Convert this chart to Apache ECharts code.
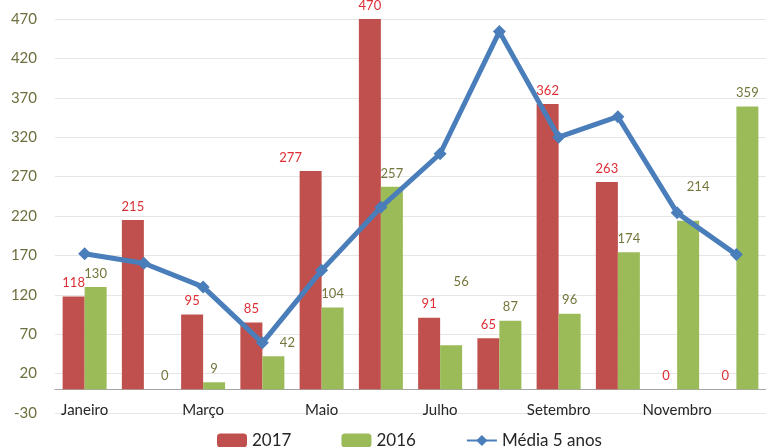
<!DOCTYPE html>
<html>
<head>
<meta charset="utf-8">
<script src="https://cdn.jsdelivr.net/npm/echarts@6/dist/echarts.min.js"></script>
<style>
  html, body { margin: 0; padding: 0; background: #fff; }
  #chart { width: 766px; height: 447px; }
</style>
</head>
<body>
<div id="chart"></div>
<script>
const months = ['Janeiro', 'Fevereiro', 'Março', 'Abril', 'Maio', 'Junho',
    'Julho', 'Agosto', 'Setembro', 'Outubro', 'Novembro', 'Dezembro'];
const values2017 = [118, 215, 95, 85, 277, 470, 91, 65, 362, 263, 0, 0];
const values2016 = [130, 0, 9, 42, 104, 257, 56, 87, 96, 174, 214, 359];
const media5anos = [172, 160, 130, 59, 151, 231, 299, 454, 320, 346, 224, 171];

// a few labels in the original sit off their bars
const nudge2017 = { 4: [-20, 0] };
const nudge2016 = { 1: [10, 0], 3: [14, 0], 6: [10, -50], 10: [10, -20] };

function withNudges(values, nudges) {
    return values.map((v, i) => nudges[i] ? { value: v, label: { offset: nudges[i] } } : v);
}

const font = 'Lato, "Open Sans", sans-serif';
const chart = echarts.init(document.getElementById('chart'));

chart.setOption({
    animation: false,
    textStyle: { fontFamily: font },
    grid: { left: 55, right: -4, top: 19, bottom: 34 },
    legend: {
        top: 427,
        left: 212,
        itemWidth: 30,
        itemHeight: 14,
        itemGap: 50,
        textStyle: { fontSize: 17, color: '#262626', fontFamily: font },
        data: ['2017', '2016', 'Média 5 anos']
    },
    xAxis: {
        type: 'category',
        data: months,
        axisLine: { lineStyle: { color: '#a6a6a6' } },
        axisTick: { show: false },
        axisLabel: { interval: 1, margin: -10, fontSize: 15, color: '#262626', fontFamily: font }
    },
    yAxis: {
        type: 'value',
        min: -30,
        max: 470,
        interval: 50,
        axisLine: { show: false },
        axisTick: { show: false },
        axisLabel: { margin: 18, fontSize: 15, color: '#6e6e3e', fontFamily: font },
        splitLine: { lineStyle: { color: '#e6e6e6' } }
    },
    series: [
        {
            name: '2017',
            type: 'bar',
            barWidth: 22,
            barGap: '0%',
            itemStyle: { color: '#c0504d' },
            label: { show: true, position: 'top', distance: 7, fontSize: 13, color: '#dd2e36', fontFamily: font },
            data: withNudges(values2017, nudge2017)
        },
        {
            name: '2016',
            type: 'bar',
            barWidth: 22,
            itemStyle: { color: '#9bbb59' },
            label: { show: true, position: 'top', distance: 7, fontSize: 13, color: '#75753c', fontFamily: font },
            data: withNudges(values2016, nudge2016)
        },
        {
            name: 'Média 5 anos',
            type: 'line',
            symbol: 'diamond',
            symbolSize: 13,
            lineStyle: { width: 5, color: '#4a7ebb' },
            itemStyle: { color: '#4a7ebb' },
            data: media5anos
        }
    ]
});
</script>
</body>
</html>
